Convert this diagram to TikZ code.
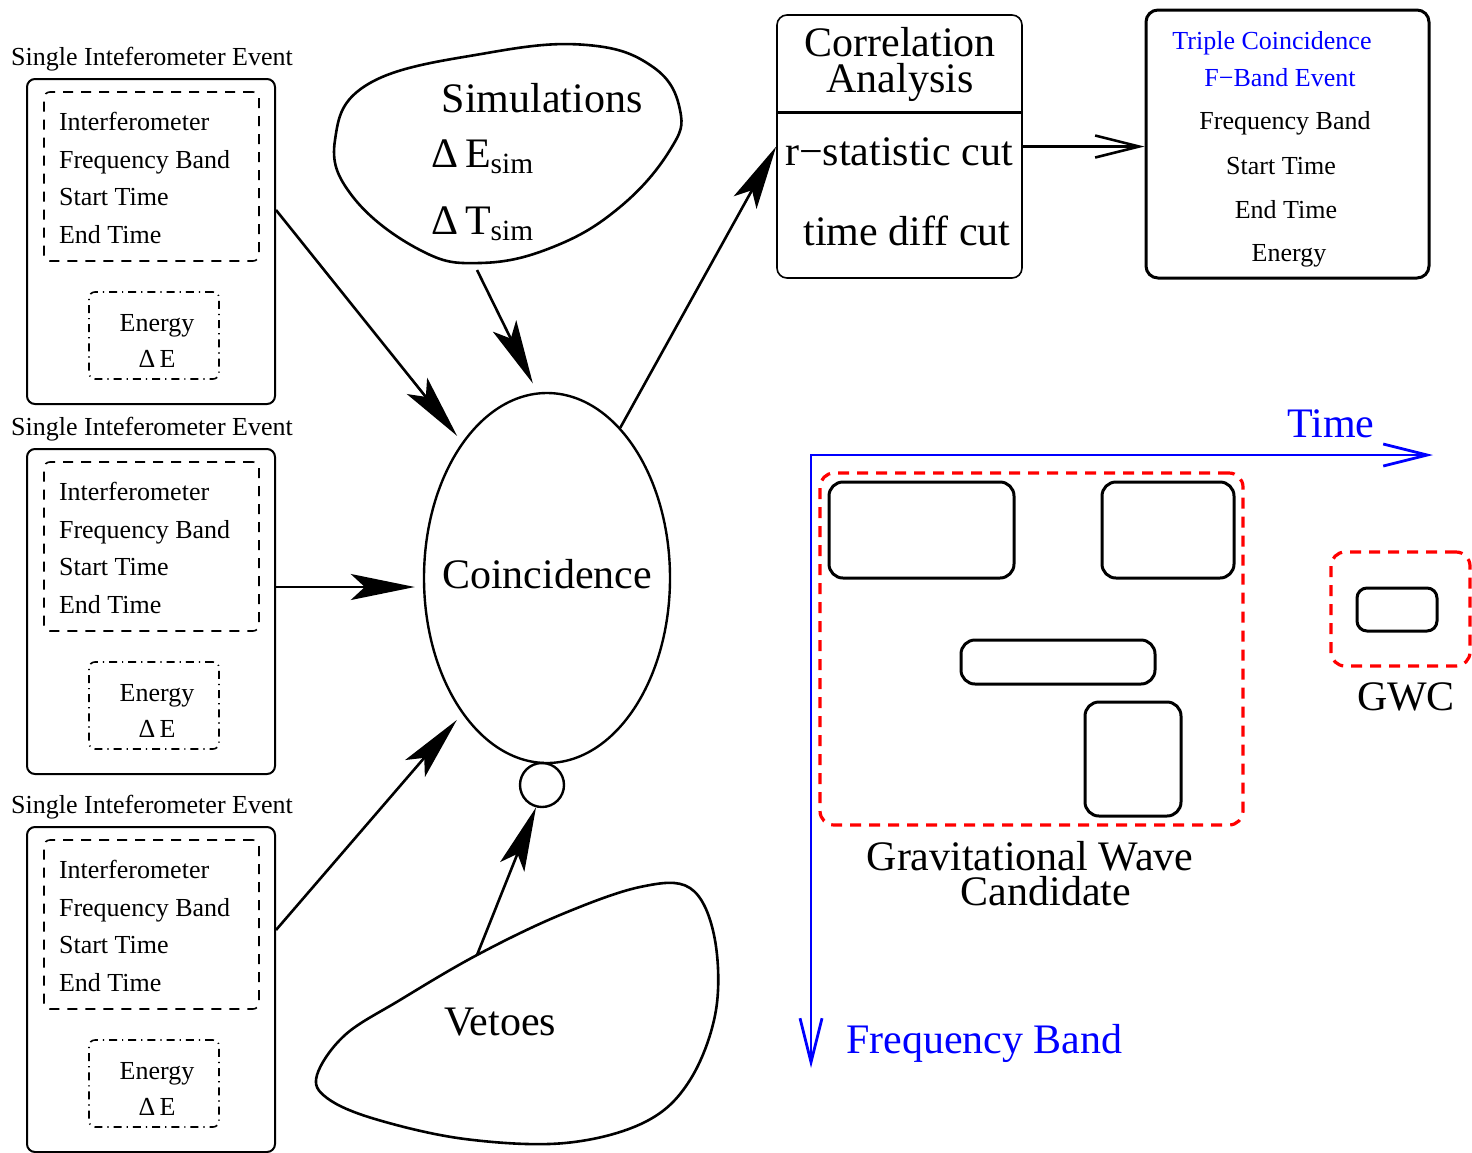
\documentclass[tikz,border=0pt]{standalone}
\usepackage{fontspec}
\setmainfont{Liberation Serif}
\usetikzlibrary{positioning, arrows.meta, shapes.geometric}

\begin{document}
\begin{tikzpicture}[
    x=0.5pt, y=-0.5pt,
    every node/.style={font=\fontsize{13}{15}\selectfont, align=center},
    big/.style={font=\fontsize{21}{17.5}\selectfont},
    evbox/.style={draw, line width=1pt, rounded corners=4pt,
                  minimum width=124pt, minimum height=162.5pt},
    infobox/.style={draw, dash pattern=on 5pt off 4pt, line width=0.8pt,
                    rounded corners=3pt, minimum width=107.5pt, minimum height=84.5pt},
    enbox/.style={draw, dash pattern=on 4pt off 2.5pt on 0.6pt off 2.5pt, line width=0.8pt,
                  rounded corners=3pt, minimum width=65pt, minimum height=43.5pt},
    arr/.style={-{Stealth[length=32pt, width=13pt, inset=7pt]}, line width=1.3pt},
    barb/.style={-{Straight Barb[length=22pt, width=11pt]}, line width=1.3pt},
    blob/.style={line width=1.3pt},
    gwcbox/.style={draw=red, dash pattern=on 5.5pt off 4pt, line width=1.6pt, rounded corners=7pt},
    trig/.style={draw, line width=1.5pt, rounded corners=7pt}
]
\useasboundingbox (0,0) rectangle (1472,1152);

% single interferometer events
\foreach \i/\dy in {1/0, 2/370, 3/748} {
  \node (lab\i) at (152,59+\dy) {Single Inteferometer Event};
  \node[evbox] (ev\i) at (151,241.5+\dy) {};
  \node[infobox] (info\i) at (151.5,176.5+\dy) {};
  \node[anchor=west, align=left, font=\fontsize{13}{18.7}\selectfont] (txt\i) at (52,178+\dy)
       {Interferometer\\Frequency Band\\Start Time\\End Time};
  \node[enbox] (en\i) at (154,335.5+\dy) {};
  \node[font=\fontsize{13}{18}\selectfont] (ent\i) at (157,341+\dy) {Energy\\Δ\,E};
}

% coincidence
\node[draw, ellipse, line width=1.2pt, minimum width=123pt, minimum height=185pt,
      inner sep=0pt] (coin) at (547,578) {};
\node[big] (cointxt) at (547,574) {Coincidence};
\node[draw, circle, line width=1.2pt, minimum size=22pt, inner sep=0pt] (vc) at (542,785) {};

% simulations
\draw[blob] plot[smooth cycle, tension=0.7] coordinates {(370,83) (487,53) (587,45) (653,67)
   (680,110) (670,150) (620,207) (553,247) (480,263) (420,250) (353,197) (335,140)};
\node[big] (simt) at (542,98) {Simulations};
\node[big, anchor=west] (esim) at (424,157) {Δ\,E\textsubscript{sim}};
\node[big, anchor=west] (tsim) at (424,224) {Δ\,T\textsubscript{sim}};
\coordinate (simout) at (477,270);

% vetoes
\draw[blob] plot[smooth cycle, tension=0.6] coordinates {(317,1075) (345,1035) (400,1000) (477,955)
   (560,915) (640,887) (690,888) (714,935) (716,1010) (690,1080) (645,1122) (565,1143)
   (465,1139) (375,1119) (327,1098)};
\node[big] (veto) at (500,1022) {Vetoes};
\coordinate (vetoout) at (477,955);

\draw[arr, shorten >=4pt] ([yshift=15.75pt]ev1.east) -- (coin.122);
\draw[arr, shorten >=4pt] ([yshift=12.25pt]ev2.east) -- ([yshift=12.25pt]ev2.east -| coin.west);
\draw[arr, shorten >=4pt] ([yshift=29.75pt]ev3.east) -- (coin.238);
\draw[arr, shorten >=5pt] (simout) -- (coin.93);
\draw[arr] (vetoout) -- (vc.255);

% correlation analysis
\node[draw, line width=0.8pt, rounded corners=5pt, minimum width=122.5pt,
      minimum height=131.5pt] (corr) at (899.5,146.5) {};
\coordinate (divide) at (899.5,112);
\draw[line width=1.5pt] (corr.west |- divide) -- (corr.east |- divide);
\node[big, font=\fontsize{21}{18}\selectfont] (corrt) at (900,64) {Correlation\\Analysis};
\node[big] (rstat) at (899,152) {r−statistic cut};
\node[big] (tdiff) at (907,231) {time diff cut};
\draw[arr] (coin.64) -- (corr.west);

% triple coincidence
\node[draw, line width=1.5pt, rounded corners=6pt, minimum width=141.5pt,
      minimum height=134pt] (tri) at (1287.5,144) {};
\node[text=blue] (tri1) at (1272,43) {Triple Coincidence};
\node[text=blue] (tri2) at (1280,78) {F−Band Event};
\node (tri3) at (1285,123) {Frequency Band};
\node (tri4) at (1281,166) {Start Time};
\node (tri5) at (1286,210) {End Time};
\node (tri6) at (1289,256) {Energy};
\draw[barb] (corr.east) -- (corr.east -| tri.west);

% time / frequency plane
\coordinate (orig) at (811,455);
\coordinate (tend) at (1433,455);
\coordinate (fend) at (811,1068);
\draw[blue, line width=1.4pt, {Straight Barb[length=22pt, width=11pt]}-{Straight Barb[length=22pt, width=11pt]}]
     (fend) -- (orig) -- (tend);
\node[big, text=blue] (tlab) at (1331,424) {Time};
\node[big, text=blue, anchor=west] (flab) at (839,1043) {Frequency Band};

\node[gwcbox, minimum width=211.5pt, minimum height=176pt] (gwave) at (1031.5,649) {};
\node[trig, minimum width=92.5pt, minimum height=48pt] (trig1) at (921.5,530) {};
\node[trig, minimum width=66pt, minimum height=48pt] (trig2) at (1168,530) {};
\node[trig, minimum width=97pt, minimum height=22pt] (trig3) at (1058,662) {};
\node[trig, minimum width=48pt, minimum height=57pt] (trig4) at (1133,759) {};
\node[big] (gwlab1) at (1030,856) {Gravitational Wave};
\node[big] (gwlab2) at (1046,891) {Candidate};

\node[gwcbox, minimum width=69.5pt, minimum height=57pt] (gwc) at (1400.5,609) {};
\node[trig, rounded corners=5pt, minimum width=40pt, minimum height=21.5pt] (trig5) at (1397,609.5) {};
\node[big] (gwclab) at (1406,697) {GWC};
\end{tikzpicture}
\end{document}
